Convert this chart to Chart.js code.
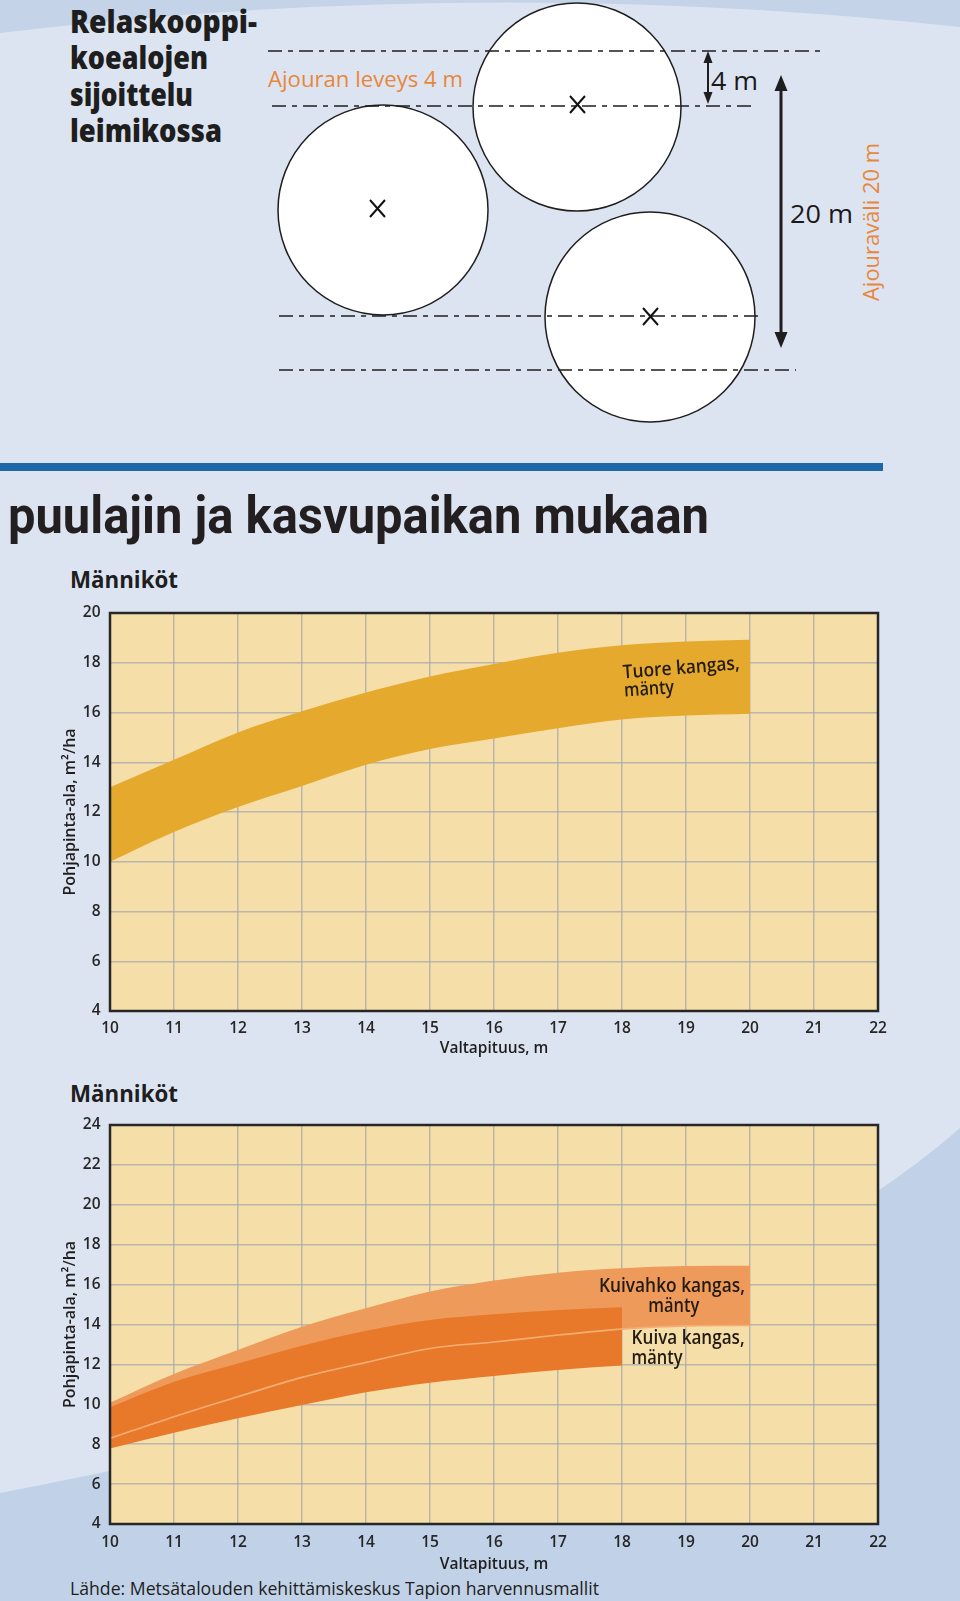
<!DOCTYPE html>
<html>
<head>
<meta charset="utf-8">
<title>Relaskooppikoealat ja pohjapinta-ala</title>
<script src="https://cdn.jsdelivr.net/npm/chart.js@4.4.1/dist/chart.umd.min.js"></script>
<style>
    html, body { margin: 0; padding: 0; }
    body { width: 960px; height: 1601px; position: relative; overflow: hidden; background: #DDE4F1; }
    svg, canvas { position: absolute; left: 0; }
    #art { top: 0; }
    #chart1 { top: 590px; }
    #chart2 { top: 1100px; }
</style>
</head>
<body>
<svg id="art" width="960" height="1601" xmlns="http://www.w3.org/2000/svg">
    <path d="M0,0 H960 V27 Q480,-25 0,33 Z" fill="#C4D3E8"/>
    <path d="M0,1493 Q695,1361 960,1128 V1601 H0 Z" fill="#C1D2E8"/>

    <g font-family="'Open Sans', sans-serif">
        <g font-weight="800" font-size="31" fill="#1E1E1E">
            <text x="70" y="33" textLength="187" lengthAdjust="spacingAndGlyphs">Relaskooppi-</text>
            <text x="70" y="69" textLength="138" lengthAdjust="spacingAndGlyphs">koealojen</text>
            <text x="70" y="105.5" textLength="123" lengthAdjust="spacingAndGlyphs">sijoittelu</text>
            <text x="70" y="142" textLength="152" lengthAdjust="spacingAndGlyphs">leimikossa</text>
        </g>
        <text x="268" y="87" font-size="21" fill="#E8873A" textLength="195" lengthAdjust="spacingAndGlyphs">Ajouran leveys 4 m</text>
    </g>

    <!-- koealat -->
    <g fill="#FFFFFF" stroke="#1E1E1E" stroke-width="1.5">
        <circle cx="383" cy="210" r="105"/>
        <circle cx="577" cy="107" r="104"/>
        <circle cx="650" cy="317" r="105"/>
    </g>
    <g stroke="#1E1E1E" stroke-width="1.6" stroke-dasharray="14 6 5 6">
        <line x1="268" y1="51" x2="824" y2="51"/>
        <line x1="272" y1="106" x2="752" y2="106"/>
        <line x1="279" y1="316" x2="759" y2="316"/>
        <line x1="279" y1="370" x2="796" y2="370"/>
    </g>
    <g stroke="#111" stroke-width="2">
        <path d="M370,200 L385,217 M385,200 L370,217"/>
        <path d="M570,96 L585,113 M585,96 L570,113"/>
        <path d="M643,308 L658,325 M658,308 L643,325"/>
    </g>

    <!-- mitat -->
    <g stroke="#1E1E1E" fill="#1E1E1E">
        <line x1="708" y1="58" x2="708" y2="97" stroke-width="2"/>
        <path d="M708,51 L703.5,63 L712.5,63 Z" stroke="none"/>
        <path d="M708,104 L703.5,92 L712.5,92 Z" stroke="none"/>
        <line x1="781" y1="86" x2="781" y2="337" stroke-width="3"/>
        <path d="M781,75 L774.5,91 L787.5,91 Z" stroke="none"/>
        <path d="M781,348 L774.5,332 L787.5,332 Z" stroke="none"/>
    </g>
    <g font-family="'Open Sans', sans-serif" fill="#1A1A1A" font-size="25">
        <text x="711" y="90" textLength="47" lengthAdjust="spacingAndGlyphs">4 m</text>
        <text x="790" y="223" textLength="63" lengthAdjust="spacingAndGlyphs">20 m</text>
    </g>
    <text transform="translate(879,222) rotate(-90)" text-anchor="middle" font-family="'Open Sans', sans-serif"
          font-size="21" fill="#E8873A" textLength="158" lengthAdjust="spacingAndGlyphs">Ajouraväli 20 m</text>

    <rect x="0" y="463" width="883" height="8" fill="#1F68A7"/>
    <text x="8" y="533" font-family="Roboto, sans-serif" font-weight="700" font-size="52" fill="#231F20"
          textLength="701" lengthAdjust="spacingAndGlyphs">puulajin ja kasvupaikan mukaan</text>

    <g font-family="'Open Sans', sans-serif" font-weight="700" font-size="23" fill="#1E1E1E">
        <text x="70" y="588" textLength="108" lengthAdjust="spacingAndGlyphs">Männiköt</text>
        <text x="70" y="1101.5" textLength="108" lengthAdjust="spacingAndGlyphs">Männiköt</text>
    </g>
    <text x="70" y="1595" font-family="'Open Sans', sans-serif" font-size="19" fill="#1E1E1E"
          textLength="529" lengthAdjust="spacingAndGlyphs">Lähde: Metsätalouden kehittämiskeskus Tapion harvennusmallit</text>
</svg>

<canvas id="chart1" width="960" height="480"></canvas>
<canvas id="chart2" width="960" height="480"></canvas>

<script>
// Valtapituus, m
const heights = [10, 11, 12, 13, 14, 15, 16, 17, 18, 19, 20];
const kuivaHeights = [10, 11, 12, 13, 14, 15, 16, 17, 18];

// Tuore kangas, mänty (pohjapinta-ala m2/ha)
const tuoreHigh = [13.0, 14.1, 15.2, 16.05, 16.8, 17.45, 17.95, 18.4, 18.7, 18.85, 18.92];
const tuoreLow = [10.0, 11.2, 12.2, 13.05, 13.9, 14.53, 14.95, 15.37, 15.72, 15.88, 15.95];

// Kuivahko kangas, mänty
const kuivahkoHigh = [10.08, 11.52, 12.72, 13.89, 14.81, 15.65, 16.2, 16.6, 16.82, 16.93, 16.95];
const kuivahkoLow = [8.29, 9.38, 10.38, 11.35, 12.1, 12.8, 13.12, 13.47, 13.77, 13.93, 13.95];

// Kuiva kangas, mänty
const kuivaHigh = [9.85, 11.13, 12.05, 12.94, 13.69, 14.23, 14.51, 14.73, 14.86];
const kuivaLow = [7.79, 8.58, 9.3, 9.96, 10.6, 11.08, 11.42, 11.72, 11.94];

const xTicks = [10, 11, 12, 13, 14, 15, 16, 17, 18, 19, 20, 21, 22];
const yTicksTop = [4, 6, 8, 10, 12, 14, 16, 18, 20];
const yTicksBottom = [4, 6, 8, 10, 12, 14, 16, 18, 20, 22, 24];

Chart.defaults.font.family = "'Open Sans', sans-serif";
Chart.defaults.color = '#262626';

function pts(xs, ys) {
    return ys.map((y, i) => ({ x: xs[i], y: y }));
}

function band(data, color, fill, order) {
    return {
        data: data,
        fill: fill,
        backgroundColor: color,
        borderColor: color,
        borderWidth: 0,
        pointRadius: 0,
        cubicInterpolationMode: 'monotone',
        order: order
    };
}

const plotFrame = {
    id: 'plotFrame',
    beforeDraw(chart) {
        const { ctx, chartArea: a } = chart;
        ctx.save();
        ctx.fillStyle = '#F6DEA8';
        ctx.fillRect(a.left, a.top, a.width, a.height);
        ctx.restore();
    },
    afterDraw(chart, args, opts) {
        const { ctx, chartArea: a, scales } = chart;
        ctx.save();
        ctx.strokeStyle = '#262626';
        ctx.lineWidth = 2.5;
        ctx.strokeRect(a.left, a.top, a.width, a.height);
        // band labels
        ctx.fillStyle = '#231B12';
        ctx.font = '600 19px "Open Sans", sans-serif';
        ctx.textBaseline = 'alphabetic';
        (opts.labels || []).forEach(l => {
            ctx.save();
            ctx.translate(scales.x.getPixelForValue(l.x), scales.y.getPixelForValue(l.y));
            ctx.rotate((l.angle || 0) * Math.PI / 180);
            const w = ctx.measureText(l.text).width;
            ctx.scale(l.width / w, 1);
            ctx.textAlign = l.align || 'left';
            ctx.fillText(l.text, 0, 0);
            ctx.restore();
        });
        ctx.restore();
    }
};

function makeOptions(yMax, yTickList, padTop, xHeight, xTickPad, xTitlePad, labels) {
    return {
        responsive: false,
        animation: false,
        layout: { padding: { top: padTop, left: 57, right: 82, bottom: 0 } },
        plugins: {
            legend: { display: false },
            tooltip: { enabled: false },
            plotFrame: { labels: labels }
        },
        scales: {
            x: {
                type: 'linear',
                min: 10,
                max: 22,
                z: 1,
                afterBuildTicks: s => { s.ticks = xTicks.map(v => ({ value: v })); },
                afterFit: s => { s.height = xHeight; },
                border: { display: false },
                grid: { color: 'rgba(165,168,172,0.75)', lineWidth: 1.5, drawTicks: false },
                ticks: { padding: xTickPad, maxRotation: 0, autoSkip: false, color: '#262626',
                         font: { size: 15.5, weight: '600' } },
                title: { display: true, text: 'Valtapituus, m', color: '#1E1E1E',
                         font: { size: 15.5, weight: '600' }, padding: { top: 0, bottom: xTitlePad } }
            },
            y: {
                min: 4,
                max: yMax,
                z: 1,
                afterBuildTicks: s => { s.ticks = yTickList.map(v => ({ value: v })); },
                afterFit: s => { s.width = 53; },
                border: { display: false },
                grid: { color: 'rgba(165,168,172,0.75)', lineWidth: 1.5, drawTicks: false },
                ticks: { padding: 9.5, color: '#262626', font: { size: 15.5, weight: '600' } },
                title: { display: true, text: 'Pohjapinta-ala, m²/ha', color: '#1E1E1E',
                         font: { size: 16, weight: '600' }, padding: { top: 4, bottom: 0 } }
            }
        }
    };
}

new Chart(document.getElementById('chart1'), {
    type: 'line',
    data: {
        datasets: [
            band(pts(heights, tuoreHigh), '#E5AA2D', '+1', 1),
            band(pts(heights, tuoreLow), '#E5AA2D', false, 2)
        ]
    },
    options: makeOptions(20, yTicksTop, 23, 59, 8, 11.7, [
        { text: 'Tuore kangas,', x: 18.02, y: 17.37, angle: -4.5, width: 117 },
        { text: 'mänty', x: 18.04, y: 16.64, angle: -4, width: 50 }
    ]),
    plugins: [plotFrame]
});

new Chart(document.getElementById('chart2'), {
    type: 'line',
    data: {
        datasets: [
            band(pts(heights, kuivahkoHigh), '#EE9A5A', '+1', 3),
            band(pts(heights, kuivahkoLow), '#EE9A5A', false, 4),
            band(pts(kuivaHeights, kuivaHigh), '#E8792A', '+1', 1),
            band(pts(kuivaHeights, kuivaLow), '#E8792A', false, 2),
            {
                data: pts(heights, kuivahkoLow),
                fill: false,
                borderColor: '#F4AE74',
                borderWidth: 1.6,
                pointRadius: 0,
                cubicInterpolationMode: 'monotone',
                order: 0
            }
        ]
    },
    options: makeOptions(24, yTicksBottom, 25, 56, 9.4, 6.4, [
        { text: 'Kuivahko kangas,', x: 18.78, y: 15.61, align: 'center', width: 146 },
        { text: 'mänty', x: 18.81, y: 14.61, align: 'center', width: 51 },
        { text: 'Kuiva kangas,', x: 18.15, y: 13.01, width: 113 },
        { text: 'mänty', x: 18.15, y: 12.0, width: 51 }
    ]),
    plugins: [plotFrame]
});
</script>
</body>
</html>
